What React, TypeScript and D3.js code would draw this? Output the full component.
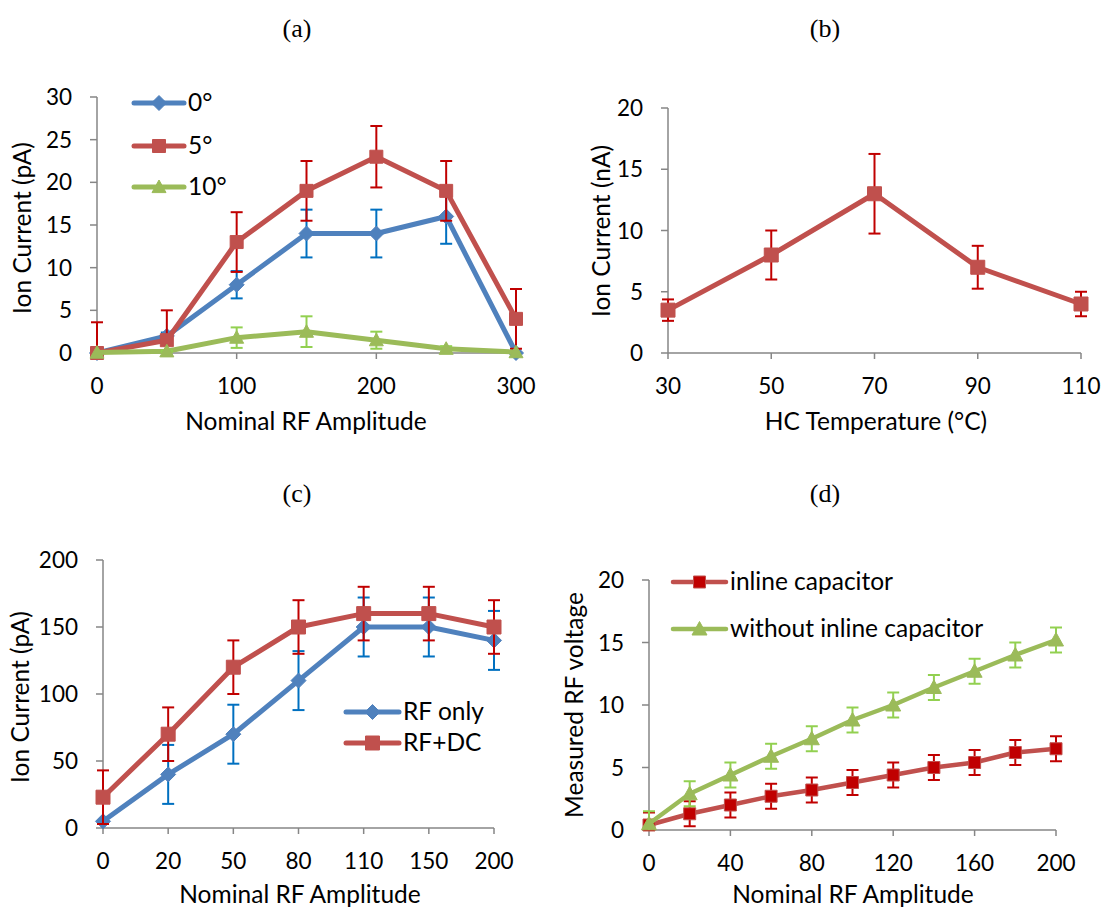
import React from 'react';
import * as d3 from 'd3';

// ---------- DATA ----------
// Panel (a)
const aX = [0, 50, 100, 150, 200, 250, 300];
const aDeg0 = [0, 2, 8, 14, 14, 16, 0];
const aDeg0Err = [0, 0.4, 1.6, 2.8, 2.8, 3.2, 0];
const aDeg5 = [0, 1.5, 13, 19, 23, 19, 4];
const aDeg5Err = [3.6, 3.5, 3.5, 3.5, 3.6, 3.5, 3.5];
const aDeg10 = [0.05, 0.2, 1.8, 2.5, 1.5, 0.5, 0.1];
const aDeg10Err = [0, 0.1, 1.2, 1.8, 1.0, 0.3, 0];
const aXTicks = [0, 100, 200, 300];
const aYTicks = [0, 5, 10, 15, 20, 25, 30];
const aLegend = ['0°', '5°', '10°'];

// Panel (b)
const bX = [30, 50, 70, 90, 110];
const bVal = [3.5, 8, 13, 7, 4];
const bErr = [0.875, 2, 3.25, 1.75, 1];
const bXTicks = [30, 50, 70, 90, 110];
const bYTicks = [0, 5, 10, 15, 20];

// Panel (c)
const cCats = ['0', '20', '50', '80', '110', '150', '200'];
const cRF = [5, 40, 70, 110, 150, 150, 140];
const cRFErr = [22, 22, 22, 22, 22, 22, 22];
const cRFDC = [23, 70, 120, 150, 160, 160, 150];
const cRFDCErr = [20, 20, 20, 20, 20, 20, 20];
const cYTicks = [0, 50, 100, 150, 200];
const cLegend = ['RF only', 'RF+DC'];

// Panel (d)
const dX = [0, 20, 40, 60, 80, 100, 120, 140, 160, 180, 200];
const dInline = [0.4, 1.3, 2.0, 2.7, 3.2, 3.8, 4.4, 5.0, 5.4, 6.2, 6.5];
const dInlineErr = [1, 1, 1, 1, 1, 1, 1, 1, 1, 1, 1];
const dWithout = [0.5, 2.9, 4.4, 5.9, 7.3, 8.8, 10.0, 11.4, 12.7, 14.0, 15.2];
const dWithoutErr = [1, 1, 1, 1, 1, 1, 1, 1, 1, 1, 1];
const dXTicks = [0, 40, 80, 120, 160, 200];
const dYTicks = [0, 5, 10, 15, 20];
const dLegend = ['inline capacitor', 'without inline capacitor'];

// ---------- STYLE ----------
const FONT = "Lato, 'Open Sans', sans-serif";
const TICK_FS = 22.5;
const TEXT_FS = 24.5;
const AXIS = '#868686';
const BLUE = '#4F81BD';
const BLUE_ERR = '#0070C0';
const RED = '#C0504D';
const RED_ERR = '#C00000';
const GREEN = '#9BBB59';
const GREEN_ERR = '#92D050';

type Marker = 'diamond' | 'square' | 'triangle';

function markerPath(m: Marker, s: number) {
  const h = s / 2;
  if (m === 'diamond') return `M0,${-h}L${h},0L0,${h}L${-h},0Z`;
  if (m === 'square') return `M${-h},${-h}H${h}V${h}H${-h}Z`;
  return `M0,${-h}L${h},${h * 0.8}L${-h},${h * 0.8}Z`;
}

interface Series {
  px: number[];
  ys: number[];
  errs: number[];
  color: string;
  errColor: string;
  marker: Marker;
  mFill: string;
  mStroke: string;
  mSize: number;
  lw: number;
}

function SeriesG({ s, y, yMin }: { s: Series; y: (v: number) => number; yMin: number }) {
  const line = d3.line<number>().x((_, i) => s.px[i]).y((v) => y(v));
  const cap = 6;
  return (
    <g>
      <path d={line(s.ys) || ''} fill="none" stroke={s.color} strokeWidth={s.lw} strokeLinejoin="round" strokeLinecap="round" />
      {s.ys.map((v, i) => {
        const e = s.errs[i];
        if (!e) return null;
        const top = v + e;
        const botRaw = v - e;
        const bot = Math.max(botRaw, yMin);
        const x = s.px[i];
        return (
          <g key={i} stroke={s.errColor} strokeWidth={2}>
            <line x1={x} x2={x} y1={y(top)} y2={y(bot)} />
            <line x1={x - cap} x2={x + cap} y1={y(top)} y2={y(top)} />
            {botRaw >= yMin && <line x1={x - cap} x2={x + cap} y1={y(bot)} y2={y(bot)} />}
          </g>
        );
      })}
      {s.ys.map((v, i) => (
        <path key={'m' + i} transform={`translate(${s.px[i]},${y(v)})`} d={markerPath(s.marker, s.mSize)} fill={s.mFill} stroke={s.mStroke} strokeWidth={1} />
      ))}
    </g>
  );
}

function LegendItem({ x1, x2, y, s, label }: { x1: number; x2: number; y: number; s: Series; label: string }) {
  return (
    <g>
      <line x1={x1} x2={x2} y1={y} y2={y} stroke={s.color} strokeWidth={s.lw} strokeLinecap="round" />
      <path transform={`translate(${(x1 + x2) / 2},${y})`} d={markerPath(s.marker, s.mSize)} fill={s.mFill} stroke={s.mStroke} strokeWidth={1} />
      <text x={x2 + 4} y={y + TEXT_FS * 0.34} fontSize={TEXT_FS} fontFamily={FONT} fill="#000">{label}</text>
    </g>
  );
}

interface AxesProps {
  x0: number; x1: number; y0: number; y1: number;
  xTickPx: number[]; xTickLabels: string[];
  yTicks: number[]; y: (v: number) => number;
  xTitle: string; xTitleX: number; xTitleY: number;
  yTitle: string; yTitleX: number; yTitleY: number;
  title: string; titleX: number; titleY: number;
}

function Axes(p: AxesProps) {
  return (
    <g>
      <text x={p.titleX} y={p.titleY} textAnchor="middle" fontFamily="'Liberation Serif', 'Times New Roman', serif" fontSize={26}>{p.title}</text>
      <line x1={p.x0} x2={p.x0} y1={p.y1} y2={p.y0} stroke={AXIS} strokeWidth={1.5} />
      <line x1={p.x0} x2={p.x1} y1={p.y0} y2={p.y0} stroke={AXIS} strokeWidth={1.5} />
      {p.yTicks.map((t) => (
        <g key={'y' + t}>
          <line x1={p.x0 - 7} x2={p.x0} y1={p.y(t)} y2={p.y(t)} stroke={AXIS} strokeWidth={1.5} />
          <text x={p.x0 - 25} y={p.y(t) + TICK_FS * 0.36} textAnchor="end" fontSize={TICK_FS} fontFamily={FONT}>{t}</text>
        </g>
      ))}
      {p.xTickPx.map((px, i) => (
        <g key={'x' + i}>
          <line x1={px} x2={px} y1={p.y0} y2={p.y0 + 6} stroke={AXIS} strokeWidth={1.5} />
          <text x={px} y={p.y0 + 41} textAnchor="middle" fontSize={TICK_FS} fontFamily={FONT}>{p.xTickLabels[i]}</text>
        </g>
      ))}
      <text x={p.xTitleX} y={p.xTitleY} textAnchor="middle" fontSize={TEXT_FS} fontFamily={FONT}>{p.xTitle}</text>
      <text transform={`translate(${p.yTitleX},${p.yTitleY}) rotate(-90)`} textAnchor="middle" fontSize={TEXT_FS} fontFamily={FONT}>{p.yTitle}</text>
    </g>
  );
}

export default function App() {
  // Panel (a)
  const ax = d3.scaleLinear().domain([0, 300]).range([97, 516]);
  const ay = d3.scaleLinear().domain([0, 30]).range([353, 97]);
  const aS: Series[] = [
    { px: aX.map(ax), ys: aDeg0, errs: aDeg0Err, color: BLUE, errColor: BLUE_ERR, marker: 'diamond', mFill: BLUE, mStroke: BLUE, mSize: 15, lw: 5 },
    { px: aX.map(ax), ys: aDeg5, errs: aDeg5Err, color: RED, errColor: RED_ERR, marker: 'square', mFill: RED, mStroke: RED, mSize: 13, lw: 5 },
    { px: aX.map(ax), ys: aDeg10, errs: aDeg10Err, color: GREEN, errColor: GREEN_ERR, marker: 'triangle', mFill: GREEN, mStroke: GREEN, mSize: 14, lw: 5 },
  ];

  // Panel (b)
  const bx = d3.scaleLinear().domain([30, 110]).range([668, 1081]);
  const by = d3.scaleLinear().domain([0, 20]).range([353, 108]);
  const bS: Series = { px: bX.map(bx), ys: bVal, errs: bErr, color: RED, errColor: RED_ERR, marker: 'square', mFill: RED, mStroke: RED, mSize: 14, lw: 5 };

  // Panel (c)
  const cx = d3.scalePoint<string>().domain(cCats).range([103, 494]);
  const cy = d3.scaleLinear().domain([0, 200]).range([828, 560]);
  const cS: Series[] = [
    { px: cCats.map((c) => cx(c) as number), ys: cRF, errs: cRFErr, color: BLUE, errColor: BLUE_ERR, marker: 'diamond', mFill: BLUE, mStroke: BLUE, mSize: 15, lw: 5 },
    { px: cCats.map((c) => cx(c) as number), ys: cRFDC, errs: cRFDCErr, color: RED, errColor: RED_ERR, marker: 'square', mFill: RED, mStroke: RED, mSize: 14, lw: 5 },
  ];

  // Panel (d)
  const dx = d3.scaleLinear().domain([0, 200]).range([649, 1056]);
  const dy = d3.scaleLinear().domain([0, 20]).range([830, 580]);
  const dS: Series[] = [
    { px: dX.map(dx), ys: dInline, errs: dInlineErr, color: RED, errColor: RED_ERR, marker: 'square', mFill: RED_ERR, mStroke: RED, mSize: 12, lw: 4.5 },
    { px: dX.map(dx), ys: dWithout, errs: dWithoutErr, color: GREEN, errColor: GREEN_ERR, marker: 'triangle', mFill: GREEN, mStroke: GREEN, mSize: 15, lw: 4.5 },
  ];

  return (
    <svg width={1104} height={907} style={{ position: 'absolute', left: 0, top: 0, background: '#fff' }}>
      <rect width={1104} height={907} fill="#fff" />
      {/* (a) */}
      <Axes x0={97} x1={516} y0={353} y1={97} xTickPx={aXTicks.map(ax)} xTickLabels={aXTicks.map(String)}
        yTicks={aYTicks} y={ay} xTitle="Nominal RF Amplitude" xTitleX={306} xTitleY={430}
        yTitle="Ion Current (pA)" yTitleX={31} yTitleY={228} title="(a)" titleX={297} titleY={37} />
      {aS.map((s, i) => <SeriesG key={i} s={s} y={ay} yMin={0} />)}
      {aS.map((s, i) => <LegendItem key={i} x1={134} x2={184} y={[103, 146, 187][i]} s={s} label={aLegend[i]} />)}

      {/* (b) */}
      <Axes x0={668} x1={1081} y0={353} y1={108} xTickPx={bXTicks.map(bx)} xTickLabels={bXTicks.map(String)}
        yTicks={bYTicks} y={by} xTitle="HC Temperature (°C)" xTitleX={876} xTitleY={430}
        yTitle="Ion Current (nA)" yTitleX={610} yTitleY={231} title="(b)" titleX={825} titleY={37} />
      <SeriesG s={bS} y={by} yMin={0} />

      {/* (c) */}
      <Axes x0={103} x1={494} y0={828} y1={560} xTickPx={cCats.map((c) => cx(c) as number)} xTickLabels={cCats}
        yTicks={cYTicks} y={cy} xTitle="Nominal RF Amplitude" xTitleX={300} xTitleY={903}
        yTitle="Ion Current (pA)" yTitleX={29} yTitleY={697} title="(c)" titleX={297} titleY={502} />
      {cS.map((s, i) => <SeriesG key={i} s={s} y={cy} yMin={0} />)}
      {cS.map((s, i) => <LegendItem key={i} x1={346} x2={399} y={[712, 743][i]} s={s} label={cLegend[i]} />)}

      {/* (d) */}
      <Axes x0={649} x1={1056} y0={830} y1={580} xTickPx={dXTicks.map(dx)} xTickLabels={dXTicks.map(String)}
        yTicks={dYTicks} y={dy} xTitle="Nominal RF Amplitude" xTitleX={853} xTitleY={903}
        yTitle="Measured RF voltage" yTitleX={583} yTitleY={705} title="(d)" titleX={825} titleY={502} />
      {dS.map((s, i) => <SeriesG key={i} s={s} y={dy} yMin={0} />)}
      {dS.map((s, i) => <LegendItem key={i} x1={673} x2={726} y={[582, 629][i]} s={s} label={dLegend[i]} />)}
    </svg>
  );
}
